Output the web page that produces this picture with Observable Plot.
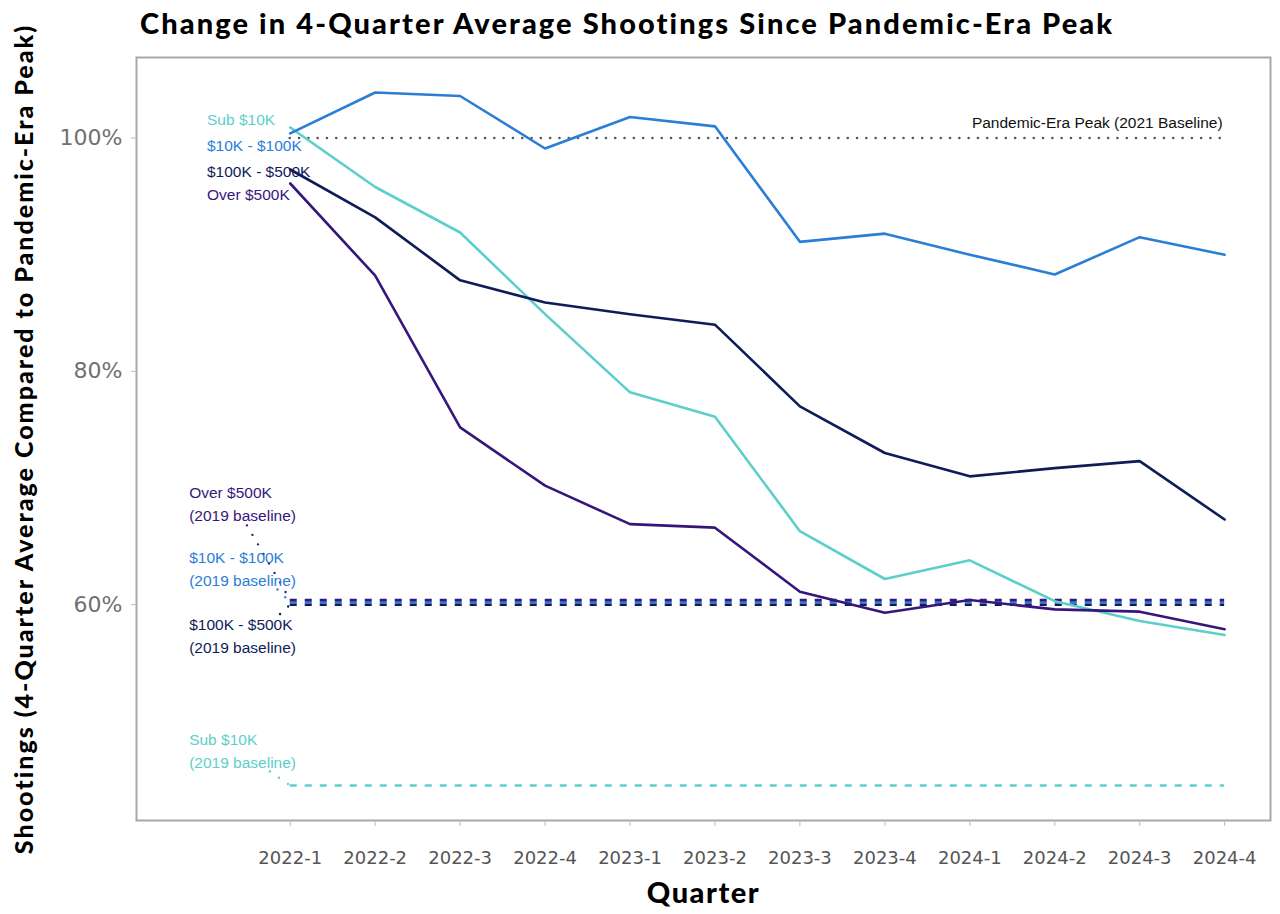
<!DOCTYPE html>
<html>
<head>
<meta charset="utf-8">
<script src="https://cdn.jsdelivr.net/npm/d3@7"></script>
<script src="https://cdn.jsdelivr.net/npm/@observablehq/plot@0.6"></script>
<style>
  html, body { margin: 0; padding: 0; background: #fff; }
  body { width: 1280px; height: 914px; overflow: hidden; position: relative; }
  #title { position: absolute; left: 140px; top: 5px; font-family: Lato, "DejaVu Sans", sans-serif; font-weight: 900; font-size: 29px; color: #000; white-space: nowrap; letter-spacing: 2.1px; }
  #chart { position: absolute; left: 0; top: 50px; }
</style>
</head>
<body>
<div id="title">Change in 4-Quarter Average Shootings Since Pandemic-Era Peak</div>
<div id="chart"></div>
<script>
// ---- Data ----
const quarters = ["2022-1","2022-2","2022-3","2022-4","2023-1","2023-2","2023-3","2023-4","2024-1","2024-2","2024-3","2024-4"];
const seriesNames = ["Sub $10K", "$10K - $100K", "$100K - $500K", "Over $500K"];
const sub10k     = [100.9, 95.8, 91.9, 84.9, 78.2, 76.1, 66.3, 62.2, 63.8, 60.3, 58.6, 57.4];
const k10to100   = [100.4, 103.9, 103.6, 99.1, 101.8, 101.0, 91.1, 91.8, 90.0, 88.3, 91.5, 90.0];
const k100to500  = [97.3, 93.2, 87.8, 85.9, 84.9, 84.0, 77.0, 73.0, 71.0, 71.7, 72.3, 67.3];
const over500k   = [96.1, 88.2, 75.2, 70.2, 66.9, 66.6, 61.1, 59.3, 60.4, 59.6, 59.4, 57.9];
const baseline2019 = [44.5, 60.2, 60.0, 60.4];
const peakValue = 100;
const peakLabel = "Pandemic-Era Peak (2021 Baseline)";
const yTicks = [60, 80, 100];
const yTitle = "Shootings (4-Quarter Average Compared to Pandemic-Era Peak)";
const xTitle = "Quarter";

// ---- Styles ----
const colors = ["#5ccfca", "#2b7ed6", "#0f1c58", "#37167c"];

// build tables
const seriesValues = [sub10k, k10to100, k100to500, over500k];
const rows = seriesValues.flatMap((vals, s) => vals.map((v, i) => ({q: i, value: v, series: seriesNames[s]})));
const baseRows = seriesNames.map((s, i) => ({series: s, value: baseline2019[i]}));
const baseOrder = [0, 1, 3, 2].map(i => baseRows[i]);

// annotation layout (data units)
const lastQ = quarters.length - 1;
const topLabelY = [101.5, 99.3, 97.1, 95.1];
const topLabels = seriesNames.map((s, i) => ({series: s, y: topLabelY[i]}));
const baseLabelY = [47.6, 63.2, 57.5, 68.8];
const baseLabels = seriesNames.map((s, i) => ({series: s, y: baseLabelY[i], text: s + "\n(2019 baseline)"}));
const leaderStart = [[-0.24, 45.7], [-0.15, 61.3], [-0.12, 59.2], [-0.51, 66.8]];
const leaders = seriesNames.map((s, i) => ({series: s, x1: leaderStart[i][0], y1: leaderStart[i][1], x2: 0, y2: baseline2019[i]}));

const color = {domain: seriesNames, range: colors};
const labelFont = "'Liberation Sans', Arial, sans-serif";

const chart = Plot.plot({
  width: 1280,
  height: 864,
  marginLeft: 136,
  marginRight: 10,
  marginTop: 7,
  marginBottom: 94,
  style: {fontFamily: "'DejaVu Sans', sans-serif", background: "transparent", overflow: "visible"},
  x: {domain: [-1.81, 11.54]},
  y: {domain: [41.5, 106.9]},
  color,
  marks: [
    Plot.frame({stroke: "#a8a8a8", strokeWidth: 2}),
    Plot.axisY(yTicks, {tickFormat: d => d + "%", tickSize: 5, tickPadding: 9, fontSize: 22, color: "#707070", stroke: "#bbb", label: null}),
    Plot.axisX(d3.range(quarters.length), {tickFormat: i => quarters[i], tickSize: 6, tickPadding: 25, fontSize: 18, color: "#555", stroke: "#bbb", label: null}),
    // pandemic-era peak dotted reference
    Plot.ruleY([peakValue], {x1: 0, x2: lastQ, stroke: "#555", strokeWidth: 2.6, strokeDasharray: "0 9.3", strokeLinecap: "round"}),
    Plot.text([peakLabel], {x: lastQ, y: peakValue, text: d => d, textAnchor: "end", dx: -2, dy: -15, fontSize: 15.5, fill: "#111", fontFamily: labelFont}),
    // 2019 baselines
    Plot.ruleY(baseOrder, {y: "value", x1: 0, x2: lastQ, stroke: "series", strokeWidth: 2.5, strokeDasharray: "7 8"}),
    // leaders
    Plot.link(leaders, {x1: "x1", y1: "y1", x2: "x2", y2: "y2", stroke: "series", strokeWidth: 2.4, strokeDasharray: "0 11", strokeLinecap: "round"}),
    // series lines
    Plot.line(rows, {x: "q", y: "value", z: "series", stroke: "series", strokeWidth: 2.6}),
    // top-left labels
    Plot.text(topLabels, {x: -0.98, y: "y", text: "series", fill: "series", textAnchor: "start", fontSize: 15.5, fontFamily: labelFont}),
    // baseline labels
    Plot.text(baseLabels, {x: -1.19, y: "y", text: "text", fill: "series", textAnchor: "start", fontSize: 15.5, lineHeight: 1.48, fontFamily: labelFont}),
    // axis titles
    Plot.text([yTitle], {frameAnchor: "left", text: d => d, rotate: -90, textAnchor: "middle", dx: -112, dy: 0, fontSize: 25, fontWeight: 900, fill: "#000", fontFamily: "Lato, sans-serif"}),
    Plot.text([xTitle], {frameAnchor: "bottom", text: d => d, textAnchor: "middle", dy: 82, fontSize: 29, fontWeight: 900, fill: "#000", fontFamily: "Lato, sans-serif"})
  ]
});
// letter spacing for the heavy axis titles
d3.select(chart).selectAll("text").each(function() {
  const t = this.textContent;
  if (t === yTitle) this.style.letterSpacing = "2px";
  if (t === xTitle) this.style.letterSpacing = "1.5px";
});
document.getElementById("chart").appendChild(chart);
</script>
</body>
</html>
